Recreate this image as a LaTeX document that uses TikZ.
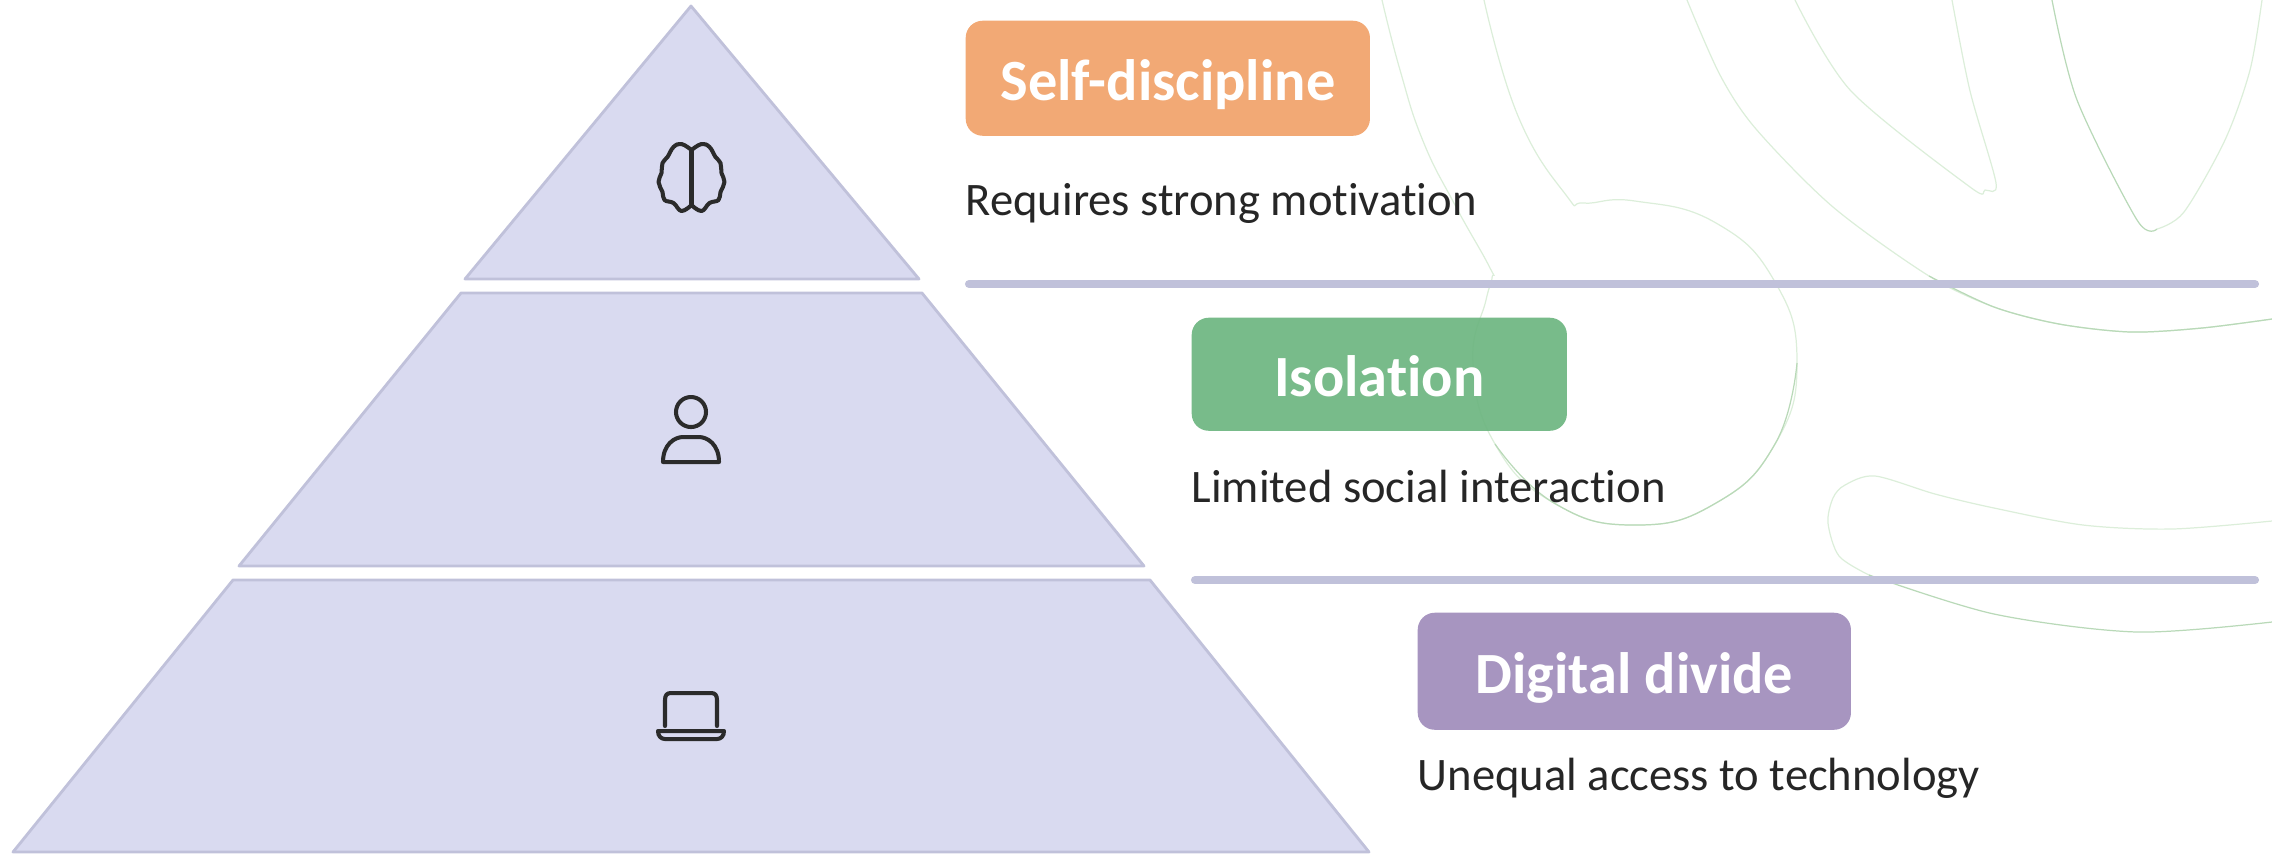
\documentclass[tikz,border=0pt]{standalone}
\usepackage{fontspec}
\setmainfont[Ligatures=NoCommon]{Carlito}
\definecolor{tierfill}{HTML}{D9DAF0}
\definecolor{tierline}{HTML}{C0C1DA}
\definecolor{iconink}{HTML}{2B2B2B}
\definecolor{textink}{HTML}{262626}
\definecolor{orangebox}{HTML}{F1A36A}
\definecolor{greenbox}{HTML}{6EB681}
\definecolor{purplebox}{HTML}{A08DBB}
\definecolor{contourfaint}{HTML}{DCEEDA}
\definecolor{contourgreen}{HTML}{B9D9B8}
\tikzstyle{tier} = [draw=tierline, fill=tierfill, line width=0.8pt, line join=round]
\tikzstyle{rulebar} = [tierline, line width=2.3pt, line cap=round]
\tikzstyle{tagbox} = [rounded corners=0.17cm, anchor=north west, inner sep=0pt,
    minimum height=1.15cm, text=white, fill opacity=0.93, text opacity=1,
    text height=0.52cm, text depth=0.08cm,
    font=\fontsize{16.6}{20}\selectfont\bfseries]
\tikzstyle{caption} = [anchor=base west, inner sep=0pt, text=textink,
    font=\fontsize{13.25}{15}\selectfont]
\tikzstyle{contour} = [contourfaint, line width=0.35pt]
\tikzstyle{contourlow} = [contourgreen, line width=0.35pt]
\tikzstyle{icon} = [iconink, line width=1.15pt, line join=round, line cap=round]
\def\lobe{
    \draw[icon] plot[smooth, tension=0.7] coordinates {(0,-28) (-10,-34) (-18,-31) (-24,-21) (-29,-15) (-30,-5)
      (-33,4) (-29,14) (-27,22) (-18,25) (-10,33) (0,27)};
}
\def\brain{
    \lobe
    \begin{scope}[xscale=-1]
    \lobe
    \end{scope}
    \draw[icon] (0,-28) -- (0,27);
}
\def\person{
    \draw[icon] (0,0) circle (15);
    \draw[icon] (-28,50) -- (28,50) .. controls (28,32) and (16,25) .. (8,25)
      -- (-8,25) .. controls (-16,25) and (-28,32) .. (-28,50) -- cycle;
}
\def\laptop{
    \draw[icon] (-26,34) -- (-26,8) .. controls (-26,3) and (-24,1) .. (-20,1) -- (20,1)
      .. controls (24,1) and (26,3) .. (26,8) -- (26,34);
    \draw[icon] (-33,39) -- (33,39) .. controls (33,44) and (30,47) .. (26,47) -- (-26,47)
      .. controls (-30,47) and (-33,44) .. (-33,39) -- cycle;
}

\begin{document}
\begin{tikzpicture}[x=0.01cm, y=-0.01cm]
\useasboundingbox (0,0) rectangle (2272,853);

% background lines
\draw[contour] plot[smooth, tension=0.8] coordinates {(1382,0) (1400,70) (1423,141) (1455,205) (1489,266) (1492,278) (1486,300)
   (1473,363) (1495,444) (1554,503) (1635,525) (1716,503) (1775,444) (1797,363) (1775,282) (1716,223) (1635,201)
   (1584,203) (1566,195) (1518,116) (1484,0)};
\draw[contourlow] plot[smooth, tension=0.8] coordinates {(1495,444) (1554,503) (1635,525) (1716,503) (1775,444) (1797,363)};
\draw[contour] plot[smooth] coordinates {(1687,0) (1720,75) (1756,129) (1833,207) (1929,276) (1994,307) (2059,324)
   (2131,332) (2202,328) (2272,319)};
\draw[contourlow] plot[smooth] coordinates {(1929,276) (1994,307) (2059,324) (2131,332) (2202,328) (2272,319)};
\draw[contour] plot[smooth] coordinates {(1795,0) (1851,91) (1970,187) (1985,190) (1996,183) (1970,91) (1952,0)};
\draw[contourlow] plot[smooth] coordinates {(2052,0) (2077,100) (2137,220) (2157,229)};
\draw[contour] plot[smooth] coordinates {(2157,229) (2184,212) (2225,140) (2250,70) (2262,0)};
\draw[contour] plot[smooth] coordinates {(2272,521) (2172,529) (2083,525) (1994,508) (1935,494) (1875,476) (1845,485)
   (1833,498) (1828,523) (1839,556) (1869,575)};
\draw[contourlow] plot[smooth] coordinates {(1869,575) (1994,614) (2137,632) (2272,622)};

% pyramid
\draw[tier] (691,6) -- (919,279) -- (465,279) -- cycle;
\draw[tier] (461,293) -- (922,293) -- (1144,566) -- (239,566) -- cycle;
\draw[tier] (233,580) -- (1150,580) -- (1369,852) -- (13,852) -- cycle;

\begin{scope}[shift={(691.5,178)}]
\brain
\end{scope}
\begin{scope}[shift={(691,412)}]
\person
\end{scope}
\begin{scope}[shift={(691,692)}]
\laptop
\end{scope}

\draw[rulebar] (969,284) -- (2255,284);
\draw[rulebar] (1195,580) -- (2255,580);

\node[tagbox, fill=orangebox, minimum width=4.04cm] (selfdiscipline) at (965,20) {Self-discipline};
\node[tagbox, fill=greenbox, minimum width=3.75cm, minimum height=1.13cm] (isolation) at (1191,317) {Isolation};
\node[tagbox, fill=purplebox, minimum width=4.33cm, minimum height=1.17cm] (digitaldivide) at (1417,612) {Digital divide};

\node[caption] (motivation) at (965,215) {Requires strong motivation};
\node[caption] (interaction) at (1191,502) {Limited social interaction};
\node[caption] (access) at (1417,790) {Unequal access to technology};
\end{tikzpicture}
\end{document}
